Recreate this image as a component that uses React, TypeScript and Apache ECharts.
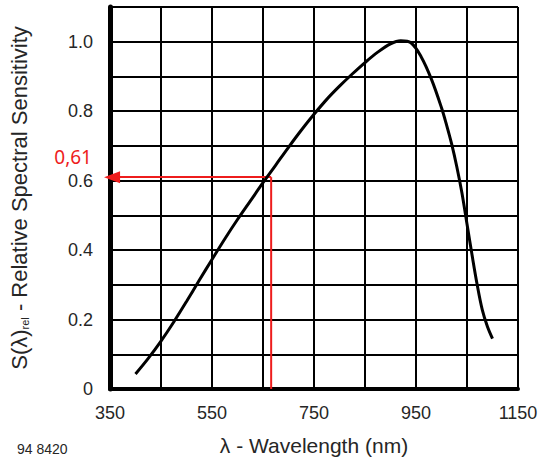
import React, { useEffect, useRef } from "react";
import * as echarts from "echarts";

const X0 = 350;
const xTicks = [350, 550, 750, 950, 1150];
const yTickLabels = ["0", "0.2", "0.4", "0.6", "0.8", "1.0"];
const wavelength = [400, 425, 450, 475, 500, 525, 550, 575, 600, 625, 650, 675, 700, 725, 750, 775, 800, 825, 850, 875, 900, 920, 940, 960, 980, 1000, 1010, 1020, 1030, 1040, 1050, 1060, 1070, 1080, 1090, 1100];
const sensitivity = [0.043, 0.088, 0.138, 0.193, 0.252, 0.313, 0.373, 0.432, 0.488, 0.541, 0.594, 0.645, 0.696, 0.745, 0.791, 0.834, 0.872, 0.907, 0.94, 0.97, 0.994, 1.003, 0.997, 0.957, 0.893, 0.81, 0.76, 0.705, 0.64, 0.565, 0.475, 0.385, 0.3, 0.228, 0.18, 0.145];
const markX = 666;
const markY = 0.61;
const markLabel = "0,61";

const RED = "#ee1c1c";
const TXT = "#262626";
const FONT = "Liberation Sans, Arial, sans-serif";

export default function App() {
  const ref = useRef<HTMLDivElement>(null);
  useEffect(() => {
    if (!ref.current) return;
    const chart = echarts.init(ref.current, null, { renderer: "svg" });
    const curve = wavelength.map((w, i) => [w - X0, sensitivity[i]]);
    chart.setOption({
      animation: false,
      backgroundColor: "#fff",
      grid: { left: 105, right: 29, top: 7, bottom: 71 },
      xAxis: {
        type: "value",
        min: 0,
        max: 800,
        interval: 100,
        name: "λ - Wavelength (nm)",
        nameLocation: "middle",
        nameGap: 46,
        nameTextStyle: { fontSize: 21, color: TXT, fontFamily: FONT },
        axisLine: { show: true, onZero: false, lineStyle: { color: "#000", width: 4 } },
        axisTick: { show: false },
        axisLabel: {
          margin: 15,
          fontSize: 18,
          color: TXT,
          fontFamily: FONT,
          formatter: (v: number) => {
            const w = v + X0;
            return xTicks.includes(w) ? String(w) : "";
          },
        },
        splitLine: { show: true, lineStyle: { color: "#000", width: 2 } },
      },
      yAxis: {
        type: "value",
        min: 0,
        max: 1.1,
        interval: 0.1,
        name: "{a|S(λ)}{sub|rel}{a| - Relative Spectral Sensitivity}",
        nameLocation: "middle",
        nameGap: 80,
        nameRotate: 90,
        nameTextStyle: {
          color: TXT,
          fontFamily: FONT,
          rich: {
            a: { fontSize: 22, color: TXT, fontFamily: FONT },
            sub: { fontSize: 11, color: TXT, fontFamily: FONT, padding: [11, 0, 0, 0] },
          },
        },
        axisLine: { show: true, lineStyle: { color: "#000", width: 5 } },
        axisTick: { show: false },
        axisLabel: {
          margin: 17,
          fontSize: 18,
          color: TXT,
          fontFamily: FONT,
          formatter: (v: number) => {
            const s = Math.abs(v) < 1e-9 ? "0" : v.toFixed(1);
            return yTickLabels.includes(s) ? s : "";
          },
        },
        splitLine: { show: true, lineStyle: { color: "#000", width: 2 } },
      },
      series: [
        {
          type: "line",
          data: curve,
          smooth: 0.35,
          symbol: "none",
          lineStyle: { color: "#000", width: 3 },
          silent: true,
          z: 5,
        },
        {
          type: "line",
          data: [
            [markX - X0, 0],
            [markX - X0, markY],
          ],
          symbol: "none",
          lineStyle: { color: RED, width: 2 },
          silent: true,
          z: 4,
          markLine: {
            silent: true,
            symbol: ["none", "triangle"],
            symbolSize: [12, 16],
            label: { show: false },
            lineStyle: { color: RED, width: 2, type: "solid" },
            emphasis: { disabled: true },
            data: [[{ coord: [markX - X0, markY] }, { coord: [4, markY] }]],
          },
        },
      ],
      graphic: [
        {
          type: "text",
          right: 547 - 92,
          top: 147,
          style: { text: markLabel, fill: RED, fontSize: 19, fontFamily: "Noto Sans, sans-serif", textAlign: "right" },
        },
        {
          type: "text",
          left: 17,
          top: 442,
          style: { text: "94 8420", fill: TXT, fontSize: 14, fontFamily: FONT },
        },
      ],
    });
    return () => chart.dispose();
  }, []);
  return (
    <div
      ref={ref}
      style={{ position: "fixed", left: 0, top: 0, width: 547, height: 461, background: "#fff" }}
    />
  );
}
